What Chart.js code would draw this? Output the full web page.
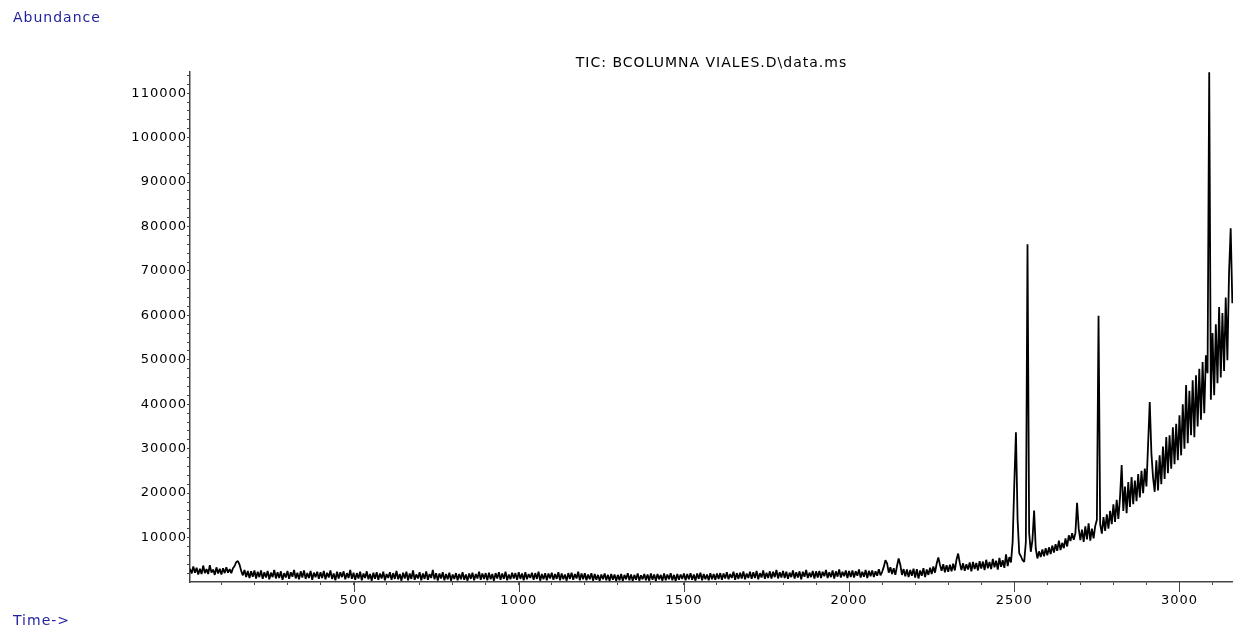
<!DOCTYPE html>
<html>
<head>
<meta charset="utf-8">
<title>TIC</title>
<script src="https://cdn.jsdelivr.net/npm/chart.js@4.4.0/dist/chart.umd.min.js"></script>
<style>
    html, body { margin: 0; padding: 0; background: #fff; }
    #wrap { width: 1233px; height: 634px; }
</style>
</head>
<body>
<div id="wrap"><canvas id="myChart" width="1233" height="634"></canvas></div>
<script>
// Texts
var chartTitle = 'TIC: BCOLUMNA VIALES.D\\data.ms';
var yAxisName = 'Abundance';
var xAxisName = 'Time->';

// Tick labels
var xTickLabels = [500, 1000, 1500, 2000, 2500, 3000];
var yTickLabels = [10000, 20000, 30000, 40000, 50000, 60000, 70000, 80000, 90000, 100000, 110000];

// Scan grid: one scan every 5 time units, from 5 to 3160
var scanStart = 5, scanStep = 5;

// Abundance per scan, one row = 100 time units
var abundance = [
    3000, 1900, 3500, 2100, 3200, 1700, 3000, 1800, 3700, 2000, 2900, 1800, 3800, 2100, 2800, 1600, 3300, 1900, 3000, 1700,
    3100, 2000, 3300, 2100, 2900, 2000, 3100, 3600, 4500, 4700, 3900, 2500, 1500, 2700, 1100, 2500, 900, 2400, 1200, 2600,
    800, 2300, 1100, 2600, 700, 2200, 1000, 2500, 600, 2100, 1100, 2700, 800, 2200, 900, 2400, 500, 2000, 1000, 2500,
    700, 2200, 1200, 2700, 800, 2100, 600, 2400, 1000, 2600, 700, 2000, 900, 2500, 500, 2100, 1100, 2300, 700, 2200,
    900, 2500, 600, 2100, 1000, 2600, 700, 1900, 400, 2300, 800, 2200, 1100, 2400, 600, 2000, 900, 2700, 700, 2100,
    500, 2000, 800, 2300, 400, 1900, 900, 2400, 600, 1800, 300, 2100, 700, 2200, 500, 1900, 800, 2300, 400, 1800,
    900, 2200, 500, 2000, 700, 2500, 600, 1800, 300, 2100, 800, 2300, 400, 1900, 700, 2600, 500, 1700, 800, 2200,
    400, 1900, 700, 2400, 500, 1800, 900, 2700, 600, 2000, 300, 1900, 800, 2200, 400, 1800, 600, 2100, 300, 1700,
    700, 2000, 400, 1800, 600, 2200, 500, 1700, 300, 1900, 700, 2100, 400, 1800, 800, 2300, 500, 1900, 700, 2000,
    400, 2100, 600, 1800, 300, 2000, 800, 2200, 500, 1900, 700, 2300, 400, 1700, 600, 2100, 800, 2000, 500, 2200,
    700, 1900, 400, 2200, 600, 1800, 900, 2100, 500, 2000, 700, 2300, 300, 1800, 600, 2000, 400, 1900, 800, 2100,
    500, 1800, 700, 2200, 400, 1900, 600, 1700, 300, 2000, 700, 2100, 500, 1800, 800, 2300, 400, 1900, 600, 2000,
    400, 1700, 600, 2000, 300, 1800, 500, 1600, 300, 1700, 600, 1900, 400, 1600, 300, 1800, 500, 1700, 300, 1600,
    400, 1800, 300, 1600, 600, 2000, 400, 1700, 300, 1600, 500, 1900, 300, 1500, 600, 1800, 400, 1700, 300, 1900,
    500, 1700, 300, 1800, 600, 1600, 300, 1900, 400, 1700, 600, 2000, 400, 1600, 300, 1800, 500, 1700, 700, 1900,
    400, 1800, 600, 2000, 500, 1700, 300, 1900, 700, 2100, 400, 1800, 600, 1700, 400, 2000, 600, 1800, 500, 1900,
    700, 2000, 500, 1900, 800, 2200, 600, 1800, 900, 2300, 500, 2000, 700, 2100, 800, 2400, 600, 1900, 900, 2300,
    700, 2200, 900, 2500, 600, 2000, 1000, 2600, 700, 2100, 900, 2400, 800, 2300, 1100, 2700, 800, 2200, 1000, 2500,
    900, 2300, 700, 2100, 1100, 2600, 800, 2200, 1000, 2400, 600, 2300, 1200, 2700, 900, 2100, 1100, 2500, 800, 2400,
    1000, 2500, 900, 2300, 1300, 2700, 900, 2200, 1100, 2600, 800, 2400, 1200, 2800, 1000, 2300, 1300, 2600, 900, 2500,
    1100, 2600, 1000, 2400, 1400, 2800, 1000, 2300, 1200, 2700, 900, 2500, 1300, 2600, 1100, 2400, 1400, 2900, 1500,
    2300, 3400, 4900, 4200, 2100, 3300, 1800, 3100, 1600, 3600, 5300, 3900, 1600, 2900, 1300, 2800, 1100, 2700, 1400, 3000,
    1000, 2900, 800, 2600, 1400, 3100, 1100, 2800, 1600, 3200, 1800, 3500, 2100, 4100, 5500, 3900, 2500, 4000, 2200, 3800,
    2300, 3900, 2400, 4100, 2600, 5000, 6400, 4300, 2700, 4200, 2500, 4000, 2800, 4400, 2400, 4500, 2900, 4300, 2600, 4700,
    3000, 4600, 2700, 5000, 3100, 4500, 2900, 5200, 3300, 4800, 2800, 5400, 3400, 4900, 3200, 6200, 3600, 5600, 4400, 9000,
    22000, 33700, 14000, 6500, 5800, 4900, 4500, 9000, 76000, 11000, 6800, 9500, 16100, 7500, 5300, 6900, 5600, 7300, 5800, 7600,
    6000, 7800, 6300, 8200, 6600, 8500, 7000, 9300, 7200, 8800, 7600, 9800, 8000, 10500, 9200, 11000, 9500, 11000, 17800, 12000,
    9400, 11800, 9000, 12500, 9600, 13200, 9300, 12000, 9800, 12600, 14000, 59900, 13000, 10900, 14600, 11500, 15200, 12000, 16000, 13000,
    17500, 13500, 18500, 14200, 19000, 26300, 16000, 21500, 15500, 22500, 16900, 23600, 17500, 22800, 18200, 24300, 19000, 25000, 20000, 25500,
    21500, 31000, 40500, 29000, 23500, 20300, 27400, 20600, 28500, 22000, 30500, 23200, 32600, 24500, 33000, 25500, 34800, 26500, 35600, 27400,
    37500, 28500, 40000, 30000, 44300, 31200, 43000, 33000, 45400, 32600, 46500, 35000, 48000, 36500, 49500, 38000, 51000, 47000, 114700, 41000,
    56000, 42000, 58000, 44700, 61900, 46000, 60500, 47500, 64000, 49900, 69500, 79600, 62700
];

var points = abundance.map(function (v, i) {
    return { x: scanStart + i * scanStep, y: v };
});

var axisColor = '#454545';
var labelColor = '#1f1f9f';

// tick marks every minorStep, without the library's nice-number rounding
function evenTicks(minorStep) {
    return function (scale) {
        var ticks = [];
        for (var v = minorStep; v <= scale.max; v += minorStep) {
            ticks.push({ value: v });
        }
        scale.ticks = ticks;
    };
}

// corner texts, longer marks at the labelled times, letter spacing
var extras = {
    id: 'extras',
    beforeDraw: function (chart) {
        chart.ctx.letterSpacing = '1px';
    },
    afterDraw: function (chart) {
        var ctx = chart.ctx;
        var xScale = chart.scales.x;
        var bottom = chart.chartArea.bottom;
        ctx.save();
        ctx.strokeStyle = axisColor;
        ctx.lineWidth = 1;
        xTickLabels.forEach(function (v) {
            var px = Math.round(xScale.getPixelForValue(v)) + 0.5;
            ctx.beginPath();
            ctx.moveTo(px, bottom);
            ctx.lineTo(px, bottom + 10);
            ctx.stroke();
        });
        ctx.fillStyle = labelColor;
        ctx.font = '14px "DejaVu Sans"';
        ctx.textBaseline = 'middle';
        ctx.textAlign = 'left';
        ctx.fillText(yAxisName, 13, 18);
        ctx.fillText(xAxisName, 13, 621);
        ctx.restore();
        ctx.letterSpacing = '0px';
    }
};

var ctx = document.getElementById('myChart').getContext('2d');

var chart = new Chart(ctx, {
    type: 'line',
    data: {
        datasets: [{
            label: 'TIC',
            data: points,
            borderColor: '#000',
            borderWidth: 1.8,
            borderJoinStyle: 'bevel',
            pointRadius: 0,
            tension: 0,
            fill: false
        }]
    },
    options: {
        responsive: false,
        animation: false,
        events: [],
        layout: { padding: 0 },
        plugins: {
            legend: { display: false },
            tooltip: { enabled: false },
            title: {
                display: true,
                text: chartTitle,
                fullSize: false,
                color: '#000',
                font: { family: 'DejaVu Sans', size: 14, weight: 'normal' },
                padding: { top: 55, bottom: 0 }
            }
        },
        scales: {
            x: {
                type: 'linear',
                min: 5,
                max: 3162,
                border: { display: true, color: axisColor, width: 1.5 },
                grid: { drawOnChartArea: false, drawTicks: true, tickLength: 3, tickColor: axisColor },
                afterBuildTicks: evenTicks(100),
                ticks: {
                    autoSkip: false,
                    maxRotation: 0,
                    minRotation: 0,
                    padding: 8,
                    color: '#000',
                    font: { family: 'DejaVu Sans', size: 13 },
                    callback: function (v) {
                        return xTickLabels.indexOf(v) >= 0 ? String(v) : '';
                    }
                },
                afterFit: function (scale) { scale.height = 52; }
            },
            y: {
                type: 'linear',
                min: 0,
                max: 114800,
                border: { display: true, color: axisColor, width: 1.5 },
                grid: { drawOnChartArea: false, drawTicks: true, tickLength: 3, tickColor: axisColor },
                afterBuildTicks: evenTicks(2000),
                ticks: {
                    autoSkip: false,
                    padding: 0,
                    color: '#000',
                    font: { family: 'DejaVu Sans', size: 13 },
                    callback: function (v) {
                        return yTickLabels.indexOf(v) >= 0 ? String(v) : '';
                    }
                },
                afterFit: function (scale) { scale.width = 190; }
            }
        }
    },
    plugins: [extras]
});
</script>
</body>
</html>
